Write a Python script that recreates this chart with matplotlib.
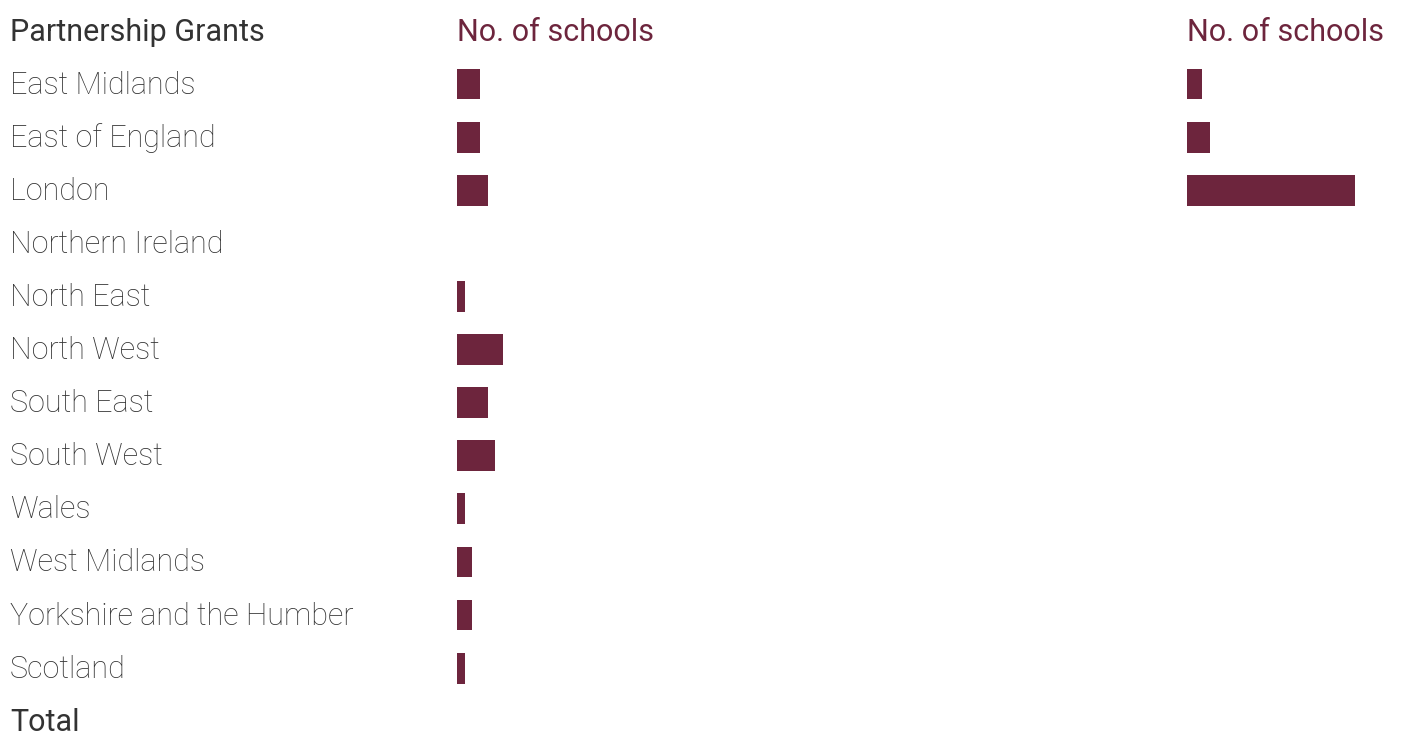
import matplotlib
matplotlib.use("Agg")
import matplotlib.pyplot as plt
import matplotlib.transforms as mtransforms

regions = ["East Midlands", "East of England", "London", "Northern Ireland",
           "North East", "North West", "South East", "South West", "Wales",
           "West Midlands", "Yorkshire and the Humber", "Scotland", "Total"]
schools_left = [3, 3, 4, 0, 1, 6, 4, 5, 1, 2, 2, 1, 0]
schools_right = [2, 3, 22, 0, 0, 0, 0, 0, 0, 0, 0, 0, 0]
header_title = "Partnership Grants"
header_col = "No. of schools"

bar_color = "#6d253d"
text_color = "#333333"
font = "Roboto"

W, H = 1402, 734
fig = plt.figure(figsize=(W / 100, H / 100), dpi=100)

# rows: header at -1, regions 0..12, row pitch ~53 px
pitch = 53.1
ylim = ((H - 84) / pitch, -1 - 31 / pitch)
px_per_unit = 7.65

ax1 = fig.add_axes([457 / W, 0, 700 / W, 1])
ax1.set_xlim(0, 700 / px_per_unit)
ax2 = fig.add_axes([1187 / W, 0, 215 / W, 1])
ax2.set_xlim(0, 215 / px_per_unit)

rows = list(range(len(regions)))
for ax, vals in [(ax1, schools_left), (ax2, schools_right)]:
    ax.barh(rows, vals, height=0.58, color=bar_color)
    ax.set_ylim(*ylim)
    ax.axis("off")

trans = mtransforms.blended_transform_factory(fig.transFigure, ax1.transData)
for i, name in enumerate(regions):
    w = "normal" if name == "Total" else "light"
    ax1.text(10 / W, i + 0.02, name, transform=trans, ha="left", va="center",
             fontsize=22, color=text_color, family=font, fontweight=w)

ax1.text(10 / W, -0.98, header_title, transform=trans, ha="left", va="center",
         fontsize=22, color=text_color, family=font)
for xpx in (457, 1187):
    ax1.text(xpx / W, -0.98, header_col, transform=trans, ha="left", va="center",
             fontsize=22, color=bar_color, family=font)

fig.savefig("out.png", dpi=100)
